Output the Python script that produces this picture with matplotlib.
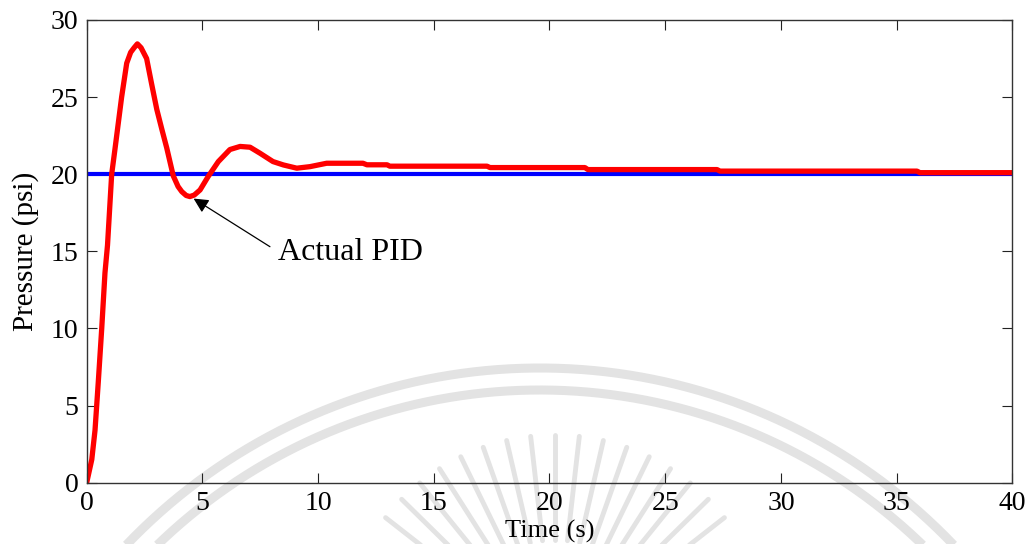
import numpy as np
import matplotlib.pyplot as plt

plt.rcParams['font.family'] = ['Liberation Serif', 'DejaVu Serif']

time = [0, 0.22, 0.36, 0.5, 0.65, 0.79, 0.9, 1.08, 1.22, 1.51, 1.73, 1.9, 2.05, 2.19,
        2.35, 2.59, 2.8, 3.03, 3.25, 3.46, 3.74, 3.95, 4.11, 4.3, 4.46, 4.65, 4.9, 5.25,
        5.69, 6.19, 6.63, 7.06, 7.49, 8.05, 8.5, 9.08, 9.65, 10.37, 11.94, 12.11, 12.98,
        13.1, 17.3, 17.43, 21.53, 21.66, 27.24, 27.37, 35.88, 36.01, 40]
pressure = [0, 1.5, 3.4, 6.5, 10.0, 13.6, 15.4, 20.0, 21.6, 25.0, 27.2, 27.9, 28.2, 28.45,
            28.2, 27.5, 25.9, 24.2, 22.9, 21.7, 19.9, 19.2, 18.87, 18.62, 18.55, 18.65, 18.98,
            19.85, 20.82, 21.6, 21.8, 21.75, 21.36, 20.82, 20.6, 20.39, 20.49, 20.71, 20.71,
            20.61, 20.61, 20.52, 20.52, 20.43, 20.43, 20.3, 20.3, 20.2, 20.2, 20.1, 20.1]

setpoint_t = [0, 40]
setpoint_p = [20, 20]

xticks = list(range(0, 41, 5))
yticks = list(range(0, 31, 5))

# annotation (data coords)
arrow_tip = (4.62, 18.42)
arrow_tail = (7.92, 15.3)
label_pos = (8.27, 14.44)

fig = plt.figure(figsize=(10.32, 5.44), dpi=100)
fig.patch.set_facecolor('white')

# faint seal watermark in the background (pixel coords)
bg = fig.add_axes([0, 0, 1, 1], zorder=-1)
bg.set_xlim(0, 1032)
bg.set_ylim(544, 0)
bg.axis('off')
wm = '#e3e3e3'
th = np.radians(np.linspace(-60, 60, 300))
for r in (572, 550):
    bg.plot(540 + r * np.sin(th), 940 - r * np.cos(th), color=wm, lw=6.5,
            solid_capstyle='butt')
for a in np.radians(np.arange(-52, 53, 6.5)):
    bg.plot([555 + 110 * np.sin(a), 555 + 215 * np.sin(a)],
            [650 - 110 * np.cos(a), 650 - 215 * np.cos(a)],
            color=wm, lw=3.5, solid_capstyle='round')

ax = fig.add_axes([0.084, 0.1127, 0.8969, 0.8506])
ax.patch.set_alpha(0)

ax.plot(setpoint_t, setpoint_p, color='#0000ff', lw=3.0)
ax.plot(time, pressure, color='#ff0000', lw=3.8, solid_joinstyle='round')

ax.annotate('', xy=arrow_tip, xytext=arrow_tail,
            arrowprops=dict(arrowstyle='-|>', color='k', lw=0.9,
                            mutation_scale=22, shrinkA=0, shrinkB=0))
ax.text(label_pos[0], label_pos[1], 'Actual PID', fontsize=23,
        ha='left', va='baseline')

ax.set_xlim(0, 40)
ax.set_ylim(0, 30)
ax.set_xticks(xticks)
ax.set_yticks(yticks)
ax.tick_params(direction='in', top=True, right=True, length=7, width=0.8,
               labelsize=20, pad=6, colors='#222222', labelcolor='black')
for s in ax.spines.values():
    s.set_linewidth(1.0)
    s.set_color('#333333')

ax.set_xlabel('Time (s)', fontsize=19, labelpad=3)
ax.set_ylabel('Pressure (psi)', fontsize=21, labelpad=8)

fig.savefig('out.png', dpi=100)
